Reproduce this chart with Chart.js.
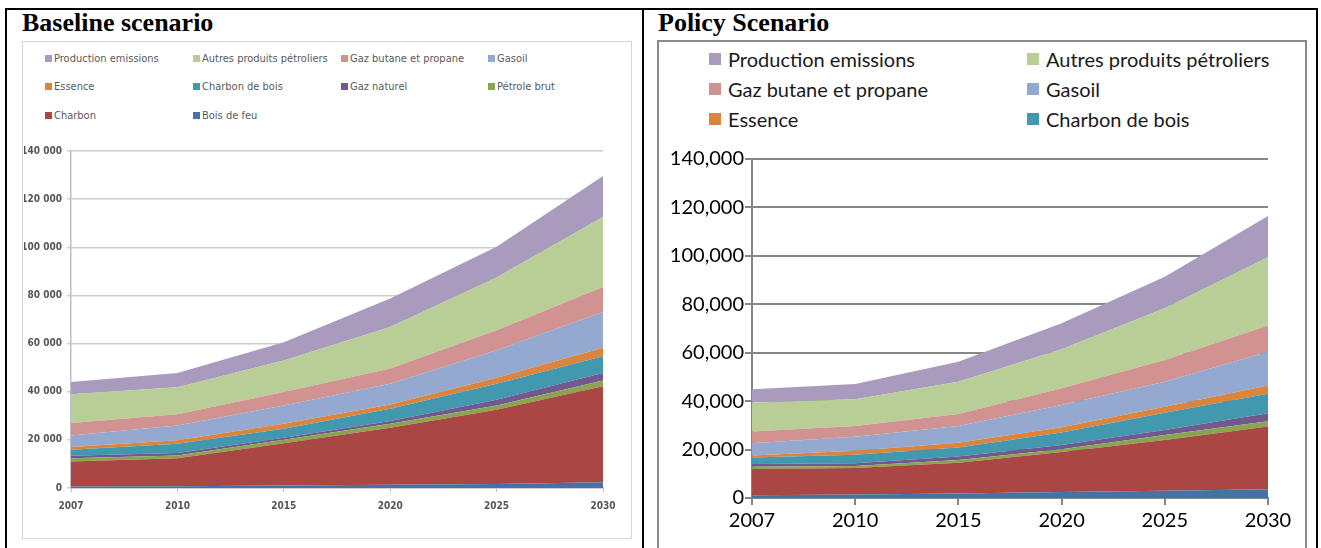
<!DOCTYPE html>
<html>
<head>
<meta charset="utf-8">
<script src="https://cdn.jsdelivr.net/npm/chart.js@4.4.1/dist/chart.umd.min.js"></script>
<style>
  body { margin: 0; width: 1321px; height: 548px; overflow: hidden; background: #fff; position: relative; }
  .table { position: absolute; left: 5px; top: 8px; width: 1309px; height: 600px; border: 2px solid #000; }
  .divider { position: absolute; left: 642px; top: 8px; width: 2px; height: 600px; background: #000; }
  .title { position: absolute; font: bold 26px "Liberation Serif", "Times New Roman", serif; color: #000; }
  .box-left { position: absolute; left: 22px; top: 41px; width: 608px; height: 496px; border: 1px solid #d4d4d4; }
  .box-right { position: absolute; left: 657px; top: 40px; width: 646px; height: 560px; border: 2px solid #8a8a8a; }
  .legend { position: absolute; display: grid; }
  .legend .item { display: flex; align-items: center; white-space: nowrap; }
  .legend .mark { display: inline-block; flex: none; }
  #legendLeft { left: 45px; top: 44px; grid-template-columns: 148px 148px 147px 120px; grid-auto-rows: 28.5px;
    font: 11px "Liberation Sans Narrow", "DejaVu Sans Condensed", sans-serif; color: #5a5a5a; }
  #legendLeft .mark { width: 7px; height: 7px; margin-right: 2px; }
  #legendRight { left: 709px; top: 44px; grid-template-columns: 318px 300px; grid-auto-rows: 30px;
    font: 20px Lato, "Open Sans", sans-serif; color: #1a1a1a; }
  #legendRight .mark { width: 12px; height: 12px; margin-right: 7px; }
  canvas { position: absolute; }
</style>
</head>
<body>
<div class="table"></div>
<div class="divider"></div>
<div class="title" style="left:22px; top:8px;">Baseline scenario</div>
<div class="title" style="left:658px; top:8px;">Policy Scenario</div>
<div class="box-left"></div>
<div class="box-right"></div>
<div class="legend" id="legendLeft"></div>
<div class="legend" id="legendRight"></div>
<canvas id="baseChart" width="600" height="390" style="left:24px; top:140px;"></canvas>
<canvas id="policyChart" width="640" height="408" style="left:660px; top:140px;"></canvas>

<script>
// years on the x axis
const years = ['2007', '2010', '2015', '2020', '2025', '2030'];

// stacked from bottom to top
const seriesNames = ['Bois de feu', 'Charbon', 'Pétrole brut', 'Gaz naturel', 'Charbon de bois',
  'Essence', 'Gasoil', 'Gaz butane et propane', 'Autres produits pétroliers', 'Production emissions'];
const seriesColors = ['#4572a7', '#aa4643', '#89a54e', '#71588f', '#4198af',
  '#db843d', '#93a9cf', '#d19392', '#b9cd96', '#a99bbd'];

// Baseline scenario
const baseBoisDeFeu     = [600, 700, 1000, 1400, 1700, 2400];
const baseCharbon       = [10400, 11700, 17600, 23600, 30800, 39900];
const basePetroleBrut   = [1400, 1100, 1400, 1700, 1800, 2400];
const baseGazNaturel    = [1000, 1000, 900, 1100, 2400, 3100];
const baseCharbonDeBois = [2500, 3900, 3700, 5100, 6600, 6900];
const baseEssence       = [1100, 1400, 2100, 1800, 2500, 3600];
const baseGasoil        = [4800, 6200, 7600, 8600, 11400, 14800];
const baseGazButane     = [5200, 4600, 5600, 6300, 8300, 10400];
const baseAutres        = [11900, 11300, 13100, 17300, 21900, 29100];
const baseProduction    = [5100, 5900, 7600, 11800, 12800, 17000];

// Policy scenario
const polBoisDeFeu     = [1100, 1400, 1900, 2500, 3000, 3600];
const polCharbon       = [10900, 11000, 12700, 16500, 21000, 25900];
const polPetroleBrut   = [900, 800, 1100, 1100, 2000, 2200];
const polGazNaturel    = [1100, 1100, 1400, 1800, 2100, 3300];
const polCharbonDeBois = [2700, 3600, 3800, 5100, 7100, 8100];
const polEssence       = [900, 1600, 1900, 2200, 2500, 3400];
const polGasoil        = [5000, 5800, 6900, 9200, 10300, 13900];
const polGazButane     = [4900, 4400, 5000, 6900, 9000, 10800];
const polAutres        = [11900, 11100, 13300, 16100, 21400, 28200];
const polProduction    = [5500, 6300, 8300, 10800, 13000, 17100];

const yMax = 140000;
const yStep = 20000;

const baseValues = [baseBoisDeFeu, baseCharbon, basePetroleBrut, baseGazNaturel, baseCharbonDeBois,
  baseEssence, baseGasoil, baseGazButane, baseAutres, baseProduction];
const polValues = [polBoisDeFeu, polCharbon, polPetroleBrut, polGazNaturel, polCharbonDeBois,
  polEssence, polGasoil, polGazButane, polAutres, polProduction];

function buildDatasets(values) {
  return values.map((v, i) => ({
    label: seriesNames[i],
    data: v,
    backgroundColor: seriesColors[i],
    borderWidth: 0,
    pointRadius: 0,
    tension: 0,
    fill: i === 0 ? 'origin' : '-1'
  }));
}

function buildLegend(id, count) {
  const box = document.getElementById(id);
  // legend lists the top layer first
  for (let i = seriesNames.length - 1; i >= seriesNames.length - count; i--) {
    const item = document.createElement('div');
    item.className = 'item';
    item.innerHTML = '<span class="mark" style="background:' + seriesColors[i] + '"></span>' + seriesNames[i];
    box.appendChild(item);
  }
}

buildLegend('legendLeft', 10);
buildLegend('legendRight', 6);

// baseline chart (pasted picture look)
const baseFont = { family: '"Liberation Sans Narrow", "DejaVu Sans Condensed", sans-serif', size: 10, weight: 'bold' };
new Chart(document.getElementById('baseChart'), {
  type: 'line',
  data: { labels: years, datasets: buildDatasets(baseValues) },
  options: {
    responsive: false,
    animation: false,
    layout: { padding: { top: 11, right: 21, left: 0, bottom: 0 } },
    plugins: { legend: { display: false }, tooltip: { enabled: false } },
    scales: {
      x: {
        afterFit: s => { s.height = 42; },
        grid: { drawOnChartArea: false, tickLength: 4, color: '#b9c0cc' },
        border: { color: '#b9c0cc', width: 1.5 },
        ticks: { font: baseFont, color: '#555', padding: 8, maxRotation: 0, autoSkip: false }
      },
      y: {
        stacked: true,
        min: 0, max: yMax,
        afterFit: s => { s.width = 47; },
        grid: { color: '#cdcdcd', lineWidth: 1.5, tickLength: 4 },
        border: { color: '#b9c0cc', width: 1.5 },
        ticks: {
          stepSize: yStep, font: baseFont, color: '#555', padding: 5,
          callback: v => v.toLocaleString('en-US').replace(/,/g, ' ')
        }
      }
    }
  }
});

// policy chart
const polFont = { family: 'Lato, "Open Sans", sans-serif', size: 20 };
new Chart(document.getElementById('policyChart'), {
  type: 'line',
  data: { labels: years, datasets: buildDatasets(polValues) },
  options: {
    responsive: false,
    animation: false,
    layout: { padding: { top: 19, right: 32, left: 0, bottom: 0 } },
    plugins: { legend: { display: false }, tooltip: { enabled: false } },
    scales: {
      x: {
        afterFit: s => { s.height = 50; },
        grid: { drawOnChartArea: false, tickLength: 7, color: '#868686', lineWidth: 2 },
        border: { color: '#868686', width: 2 },
        ticks: { font: polFont, color: '#000', padding: 4, maxRotation: 0, autoSkip: false }
      },
      y: {
        stacked: true,
        min: 0, max: yMax,
        afterFit: s => { s.width = 92; },
        grid: { color: '#868686', lineWidth: 2, tickLength: 7 },
        border: { color: '#868686', width: 2 },
        ticks: {
          stepSize: yStep, font: polFont, color: '#000', padding: 1,
          callback: v => v.toLocaleString('en-US')
        }
      }
    }
  }
});
</script>
</body>
</html>
